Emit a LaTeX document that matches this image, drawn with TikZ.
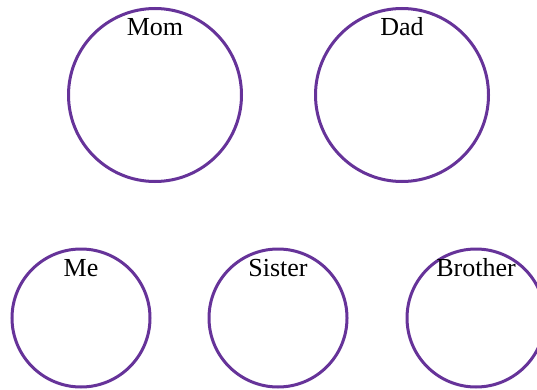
\documentclass[tikz,border=0pt]{standalone}
\usepackage{fontspec}
\setmainfont{Liberation Serif}
\definecolor{famPurple}{HTML}{663399}
\begin{document}
\begin{tikzpicture}[x=1pt, y=-1pt,
  person/.style={circle, draw=famPurple, line width=3pt, inner sep=0pt, outer sep=0pt},
  parent/.style={person, minimum size=173pt},
  child/.style={person, minimum size=138pt},
  tag/.style={anchor=base, inner sep=0pt, font=\fontsize{26}{30}\selectfont}]
  \useasboundingbox (0,0) rectangle (537,390);

  % Parents
  \node[parent] (mom) at (155,95) {};
  \node[parent] (dad) at (402,95) {};
  \node[tag] (momtag) at ([yshift=-27pt]mom.north) {Mom};
  \node[tag] (dadtag) at ([yshift=-27pt]dad.north) {Dad};

  % Children
  \node[child] (me) at (81,318) {};
  \node[child] (sister) at (278,318) {};
  \node[child] (brother) at (476,318) {};
  \node[tag] (metag) at ([yshift=-27pt]me.north) {Me};
  \node[tag] (sistertag) at ([yshift=-27pt]sister.north) {Sister};
  \node[tag] (brothertag) at ([yshift=-27pt]brother.north) {Brother};
\end{tikzpicture}
\end{document}
